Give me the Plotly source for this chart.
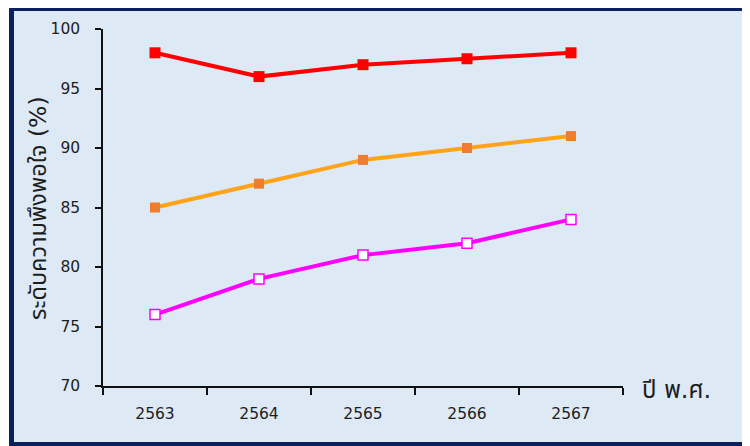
import plotly.graph_objects as go

years = ["2563", "2564", "2565", "2566", "2567"]
series_red = [98, 96, 97, 97.5, 98]
series_orange = [85, 87, 89, 90, 91]
series_magenta = [76, 79, 81, 82, 84]
y_ticks = [70, 75, 80, 85, 90, 95, 100]

FONT = "DejaVu Sans, Noto Sans Thai, Noto Sans, sans-serif"

fig = go.Figure()
fig.add_trace(go.Scatter(x=years, y=series_red, mode="lines+markers",
                         line=dict(color="#ff0000", width=4),
                         marker=dict(symbol="square", size=11, color="#ff0000")))
fig.add_trace(go.Scatter(x=years, y=series_orange, mode="lines+markers",
                         line=dict(color="#ffa31a", width=4),
                         marker=dict(symbol="square", size=10, color="#f07c30")))
fig.add_trace(go.Scatter(x=years, y=series_magenta, mode="lines+markers",
                         line=dict(color="#ff00ff", width=4),
                         marker=dict(symbol="square", size=10, color="#ffffff",
                                     line=dict(color="#ff00ff", width=1.5))))

OFF = 8  # page body margin
L, R, T, B = 103 - OFF, 127, 29 - OFF, 60
W, H = 750 - OFF, 446 - OFF
pw, ph = W - L - R, H - T - B

def px(x):
    return (x - OFF - L) / pw

def py(y):
    return (H - B - (y - OFF)) / ph

fig.add_shape(type="rect", xref="paper", yref="paper",
              x0=px(11.5), x1=px(770), y0=py(444.5), y1=py(8.5),
              line=dict(color="#0b215e", width=5), fillcolor="#dde9f5",
              layer="below")

fig.add_annotation(text="ปี พ.ศ.", xref="paper", yref="paper",
                   x=px(640), y=py(390), xanchor="left", yanchor="middle",
                   showarrow=False, font=dict(size=24, color="#1e1e1e", family=FONT))

fig.add_annotation(text="ระดับความพึงพอใจ (%)", xref="paper", yref="paper",
                   x=px(38), y=py(208), xanchor="center", yanchor="middle",
                   textangle=-90, showarrow=False,
                   font=dict(size=23.5, color="#1e1e1e", family=FONT))

fig.update_layout(
    width=W, height=H,
    margin=dict(l=L, r=R, t=T, b=B),
    paper_bgcolor="#ffffff",
    plot_bgcolor="rgba(0,0,0,0)",
    showlegend=False,
    font=dict(family=FONT, color="#1e1e1e"),
    xaxis=dict(type="category", range=[-0.5, 4.5], showgrid=False,
               showline=True, linecolor="#111111", linewidth=1.5,
               ticks="outside", ticklen=7, tickcolor="#111111", tickwidth=1.5,
               tickson="boundaries", ticklabelstandoff=13,
               tickfont=dict(size=15.5, color="#1e1e1e"), zeroline=False),
    yaxis=dict(range=[70, 100], tickvals=y_ticks, showgrid=False,
               showline=True, linecolor="#111111", linewidth=1.5,
               ticks="outside", ticklen=6, tickcolor="#111111", tickwidth=1.5,
               ticklabelstandoff=12, zeroline=False,
               tickfont=dict(size=15.5, color="#1e1e1e")),
)

fig.write_html("out.html")
